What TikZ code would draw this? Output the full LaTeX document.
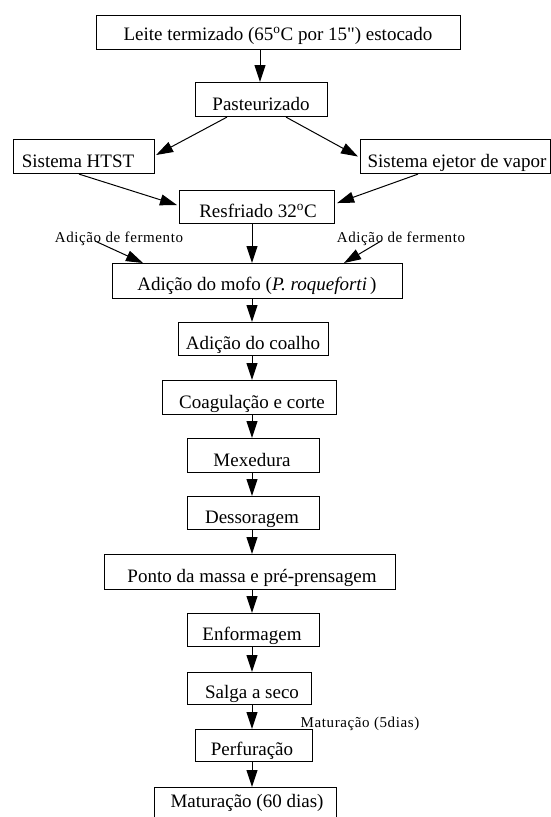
\documentclass[tikz,border=0pt]{standalone}
\usepackage{fontspec}
\setmainfont{Liberation Serif}
\newfontfamily\smallf[LetterSpace=4]{Liberation Serif}
\font\plainq="Liberation Serif" at 19pt
\usetikzlibrary{arrows.meta,calc}
\tikzset{
  box/.style={draw, line width=1.1pt, inner sep=0pt, anchor=north west},
  txt/.style={anchor=base, inner sep=0pt, font=\fontsize{19}{21}\selectfont},
  lbl/.style={anchor=base, inner sep=0pt, font=\smallf\fontsize{15}{17}\selectfont},
  arr/.style={line width=1pt, -{Triangle[length=17pt,width=11pt]}}
}
\begin{document}
\begin{tikzpicture}[x=1pt,y=-1pt]
\useasboundingbox (0,0) rectangle (551,817);
\fill[white] (0,0) rectangle (551,817);
% boxes
\node[box, minimum width=364pt, minimum height=34pt] (b1) at (96,15) {};
\node[box, minimum width=132pt, minimum height=34pt] (b2) at (195,82) {};
\node[box, minimum width=141pt, minimum height=34pt] (b3) at (13,139) {};
\node[box, minimum width=190pt, minimum height=34pt] (b4) at (360,139) {};
\node[box, minimum width=155pt, minimum height=33pt] (b5) at (179,190) {};
\node[box, minimum width=290pt, minimum height=35pt] (b6) at (112,263) {};
\node[box, minimum width=150pt, minimum height=33pt] (b7) at (178,322) {};
\node[box, minimum width=174pt, minimum height=34pt] (b8) at (162,380) {};
\node[box, minimum width=132pt, minimum height=34pt] (b9) at (187,438) {};
\node[box, minimum width=132pt, minimum height=33pt] (b10) at (187,496) {};
\node[box, minimum width=291pt, minimum height=35pt] (b11) at (104,554) {};
\node[box, minimum width=132pt, minimum height=33pt] (b12) at (187,613) {};
\node[box, minimum width=124pt, minimum height=32pt] (b13) at (187,672) {};
\node[box, minimum width=117pt, minimum height=32pt] (b14) at (195,729) {};
\node[box, minimum width=182pt, minimum height=45pt] (b15) at (154,787) {};
% texts
\node[txt] (t1) at (278,40) {Leite termizado (65\textsuperscript{o}C por 15{\plainq\char"22}) estocado};
\node[txt] (t2) at (261,110) {Pasteurizado};
\node[txt] (t3) at (78,167) {Sistema HTST};
\node[txt] (t4) at (457,167) {Sistema ejetor de vapor};
\node[txt] (t5) at (258,217) {Resfriado 32\textsuperscript{o}C};
\node[txt] (t6) at (257,290) {Adição do mofo (\textit{P. roqueforti}\,)};
\node[txt] (t7) at (253,349) {Adição do coalho};
\node[txt] (t8) at (252,408) {Coagulação e corte};
\node[txt] (t9) at (252,466) {Mexedura};
\node[txt] (t10) at (252,523) {Dessoragem};
\node[txt] (t11) at (252,582) {Ponto da massa e pré-prensagem};
\node[txt] (t12) at (252,640) {Enformagem};
\node[txt] (t13) at (252,698) {Salga a seco};
\node[txt] (t14) at (252,755) {Perfuração};
\node[txt] (t15) at (247,807) {Maturação (60 dias)};
% side labels
\node[lbl] (f1) at (119,242) {Adição de fermento};
\node[lbl] (f2) at (401,242) {Adição de fermento};
\node[lbl] (m5) at (360,727) {Maturação (5dias)};
\coordinate (f1s) at (95,241);
\coordinate (f2s) at (381,241);
% axes
\coordinate (ax0) at (260,0);
\coordinate (ax) at (252,0);
% connectors
\draw[arr] (ax0 |- b1.south) -- (ax0 |- b2.north);
\draw[arr] ([xshift=32pt]b2.south west) -- ([xshift=1pt,yshift=-16pt]b3.north east);
\draw[arr] ([xshift=91pt]b2.south west) -- ([xshift=-2pt]b4.west);
\draw[arr] ([xshift=66pt]b3.south west) -- ([xshift=-2pt,yshift=2pt]b5.west);
\draw[arr] ([xshift=58pt]b4.south west) -- ([xshift=2pt,yshift=4pt]b5.east);
\draw[arr] (ax |- b5.south) -- (ax |- b6.north);
\draw[arr] (f1s) -- ([xshift=31pt]b6.north west);
\draw[arr] (f2s) -- ([xshift=232pt]b6.north west);
\draw[arr] (ax |- b6.south) -- (ax |- b7.north);
\draw[arr] (ax |- b7.south) -- (ax |- b8.north);
\draw[arr] (ax |- b8.south) -- (ax |- b9.north);
\draw[arr] (ax |- b9.south) -- (ax |- b10.north);
\draw[arr] (ax |- b10.south) -- (ax |- b11.north);
\draw[arr] (ax |- b11.south) -- (ax |- b12.north);
\draw[arr] (ax |- b12.south) -- (ax |- b13.north);
\draw[arr] (ax |- b13.south) -- (ax |- b14.north);
\draw[arr] (ax |- b14.south) -- (ax |- b15.north);
\end{tikzpicture}
\end{document}
